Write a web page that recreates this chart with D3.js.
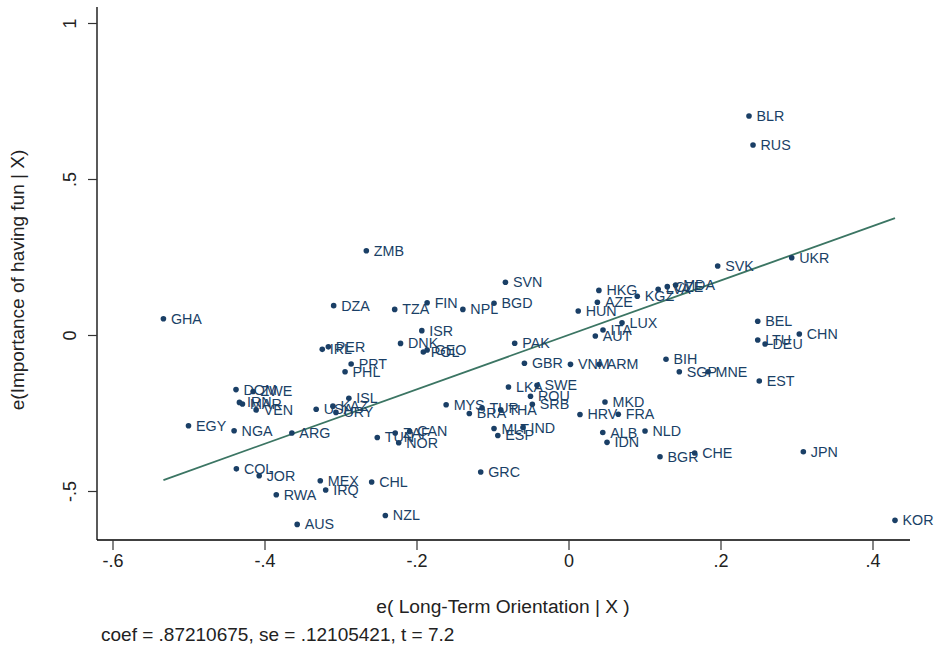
<!DOCTYPE html>
<html>
<head>
<meta charset="utf-8">
<script src="https://cdn.jsdelivr.net/npm/d3@7/dist/d3.min.js"></script>
<style>
  html, body { margin: 0; padding: 0; background: #fff; }
  svg { display: block; font-family: "Liberation Sans", Arial, sans-serif; }
</style>
</head>
<body>
<svg id="chart" width="936" height="649"></svg>
<script>
const countries = ["GHA","ZMB","DZA","IRL","PER","PRT","PHL","DOM","ZWE","IRN","MAR","VEN","EGY","NGA","ARG","COL","JOR","RWA","AUS","MEX","IRQ","CHL","NZL","USA","KAZ","URY","ISL","TUN","ZAF","CAN","NOR","TZA","FIN","NPL","BGD","SVN","ISR","DNK","POL","GEO","PAK","GBR","VNM","ARM","HUN","HKG","AZE","LKA","SWE","ROU","SRB","MYS","TUR","THA","BRA","MLT","IND","ESP","GRC","HRV","MKD","FRA","ALB","IDN","NLD","BGR","CHE","JPN","KOR","EST","SGP","MNE","BIH","BEL","LTU","DEU","CHN","LUX","ITA","AUT","KGZ","LVA","CZE","MDA","SVK","UKR","BLR","RUS"];
const xVals = [-0.533,-0.266,-0.309,-0.324,-0.316,-0.286,-0.294,-0.4375,-0.415,-0.433,-0.429,-0.411,-0.500,-0.440,-0.364,-0.437,-0.407,-0.3845,-0.357,-0.3266,-0.3195,-0.259,-0.241,-0.332,-0.310,-0.306,-0.289,-0.2516,-0.228,-0.209,-0.2234,-0.2287,-0.186,-0.139,-0.098,-0.083,-0.193,-0.221,-0.191,-0.186,-0.0708,-0.058,0.0026,0.0404,0.0128,0.040,0.038,-0.079,-0.0414,-0.050,-0.0476,-0.161,-0.1138,-0.0892,-0.1305,-0.098,-0.0599,-0.093,-0.1155,0.0151,0.048,0.0655,0.0451,0.0507,0.1007,0.1204,0.166,0.309,0.4296,0.251,0.1458,0.1836,0.1283,0.249,0.249,0.2586,0.3037,0.0704,0.0454,0.0353,0.0905,0.118,0.130,0.141,0.1963,0.2937,0.2375,0.2428];
const yVals = [0.052,0.270,0.094,-0.046,-0.038,-0.093,-0.118,-0.175,-0.181,-0.216,-0.221,-0.240,-0.291,-0.307,-0.314,-0.429,-0.451,-0.512,-0.607,-0.467,-0.497,-0.471,-0.5785,-0.238,-0.228,-0.248,-0.203,-0.3285,-0.314,-0.309,-0.3455,0.082,0.1035,0.082,0.1016,0.169,0.014,-0.027,-0.0545,-0.048,-0.0266,-0.0907,-0.094,-0.094,0.077,0.143,0.105,-0.1667,-0.161,-0.1965,-0.222,-0.2237,-0.234,-0.240,-0.2516,-0.2997,-0.2965,-0.322,-0.439,-0.2548,-0.2147,-0.254,-0.3125,-0.344,-0.3077,-0.390,-0.378,-0.374,-0.594,-0.1474,-0.1176,-0.1176,-0.0779,0.0439,-0.016,-0.0288,0.0032,0.0394,0.016,-0.0032,0.124,0.1465,0.155,0.160,0.221,0.2478,0.702,0.609];
const xTicks = [-0.6,-0.4,-0.2,0,0.2,0.4];
const yTicks = [-0.5,0,0.5,1];
const coef = 0.87210675;
const intercept = 0;
const xTitle = "e( Long-Term Orientation | X )";
const yTitle = "e(Importance of having fun | X)";
const note = "coef = .87210675, se = .12105421, t = 7.2";

const navy = "#1a3f66";
const lineCol = "#3b7563";
const svg = d3.select("#chart");
const plotL = 97, plotR = 910, plotT = 7, plotB = 540;

const x = d3.scaleLinear().domain([-0.6, 0.4]).range([112.5, 872.5]);
const y = d3.scaleLinear().domain([-0.5, 1]).range([491, 23]);

const stataFmt = v => {
  if (v === 0) return "0";
  let s = String(+v.toFixed(4));
  return s.replace(/^(-?)0\./, "$1.");
};

// axes lines
svg.append("line").attr("x1", plotL).attr("x2", plotL).attr("y1", plotT).attr("y2", plotB)
  .attr("stroke", "#000").attr("stroke-width", 1.3);
svg.append("line").attr("x1", plotL).attr("x2", plotR).attr("y1", plotB).attr("y2", plotB)
  .attr("stroke", "#000").attr("stroke-width", 1.3);

// x axis
const gx = svg.append("g").attr("transform", `translate(0,${plotB})`)
  .call(d3.axisBottom(x).tickValues(xTicks).tickFormat(stataFmt).tickSize(10).tickPadding(4));
gx.select(".domain").remove();
gx.selectAll(".tick line").attr("stroke", "#333").attr("stroke-width", 1.2);
gx.selectAll(".tick text").attr("font-size", 18).attr("fill", "#222")
  .attr("font-family", "Liberation Sans, Arial, sans-serif");

// y axis
const gy = svg.append("g").attr("transform", `translate(${plotL},0)`)
  .call(d3.axisLeft(y).tickValues(yTicks).tickFormat(stataFmt).tickSize(9).tickPadding(0));
gy.select(".domain").remove();
gy.selectAll(".tick line").attr("stroke", "#333").attr("stroke-width", 1.2);
gy.selectAll(".tick text").remove();
gy.selectAll(".tick").append("text")
  .attr("transform", "translate(-21,0) rotate(-90)")
  .attr("text-anchor", "middle")
  .attr("font-size", 18).attr("fill", "#222")
  .attr("font-family", "Liberation Sans, Arial, sans-serif")
  .text(d => stataFmt(d));

// fitted line
const xExt = d3.extent(xVals);
svg.append("line")
  .attr("x1", x(xExt[0])).attr("y1", y(intercept + coef * xExt[0]))
  .attr("x2", x(xExt[1])).attr("y2", y(intercept + coef * xExt[1]))
  .attr("stroke", lineCol).attr("stroke-width", 1.8);

// points + labels
const data = countries.map((c, i) => ({c, x: xVals[i], y: yVals[i]}));
const g = svg.append("g");
g.selectAll("circle").data(data).enter().append("circle")
  .attr("cx", d => x(d.x)).attr("cy", d => y(d.y)).attr("r", 2.8).attr("fill", navy);
g.selectAll("text").data(data).enter().append("text")
  .attr("x", d => x(d.x) + 7.5).attr("y", d => y(d.y) + 5)
  .attr("font-size", 14.3).attr("fill", navy).text(d => d.c);

// titles
svg.append("text").attr("x", 503).attr("y", 613).attr("text-anchor", "middle")
  .attr("font-size", 19.2).attr("fill", "#222").text(xTitle);
svg.append("text").attr("transform", "translate(24,280) rotate(-90)").attr("text-anchor", "middle")
  .attr("font-size", 19).attr("fill", "#222").text(yTitle);
svg.append("text").attr("x", 101).attr("y", 641)
  .attr("font-size", 19).attr("fill", "#222").text(note);
</script>
</body>
</html>
